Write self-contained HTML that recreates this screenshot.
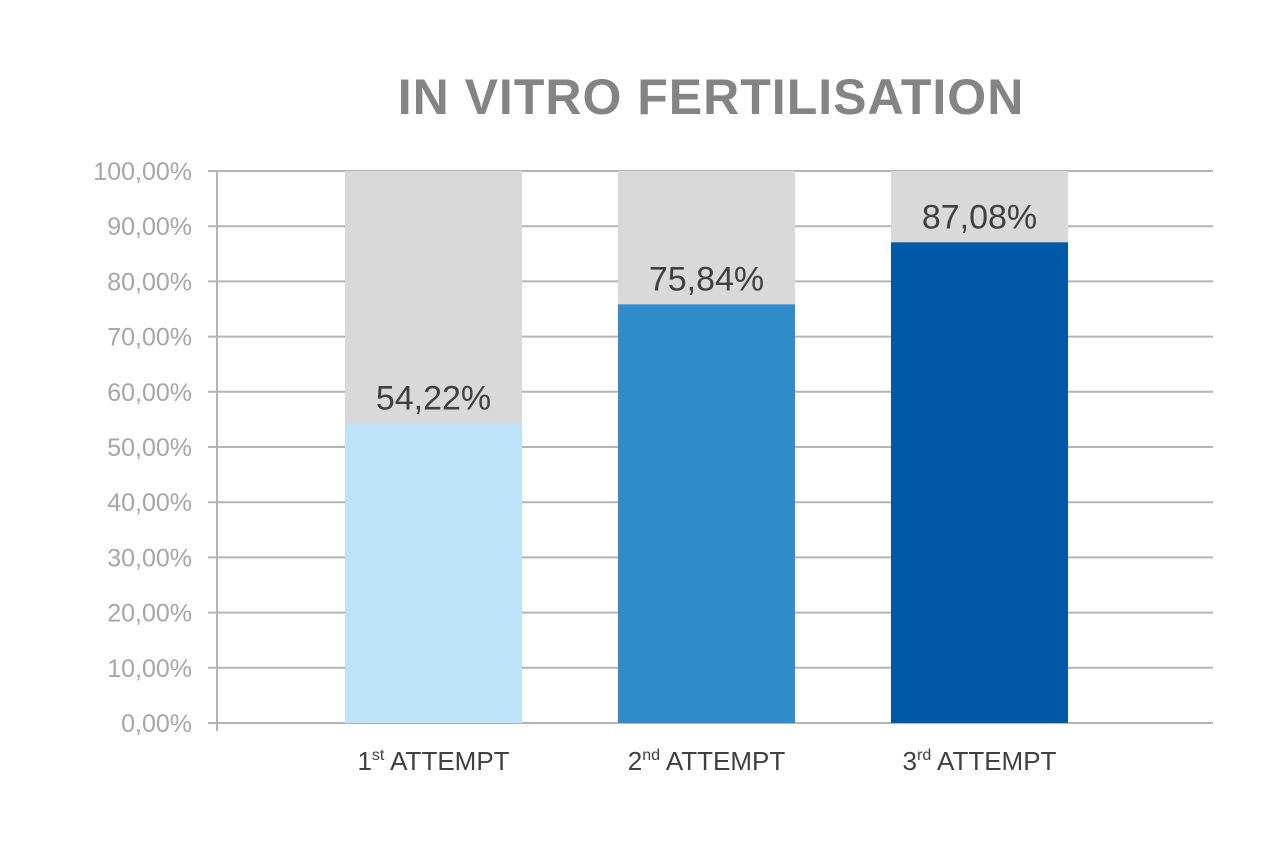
<!DOCTYPE html>
<html><head><meta charset="utf-8"><style>
body{margin:0;background:#fff;width:1280px;height:843px;overflow:hidden}
svg text{font-family:"Liberation Sans",sans-serif}
</style></head><body>
<svg id="chart" width="1280" height="843" xmlns="http://www.w3.org/2000/svg">
<text x="711" y="114" text-anchor="middle" font-size="50" font-weight="bold" fill="#848484" letter-spacing="1">IN VITRO FERTILISATION</text>
<g id="grid"></g><g id="bars"></g><g id="labels"></g>
</svg>
<script>
const categories=["1st","2nd","3rd"];
const suffixes=["st","nd","rd"];
const nums=["1","2","3"];
const values=[54.22,75.84,87.08];
const valueLabels=["54,22%","75,84%","87,08%"];
const ticks=[0,10,20,30,40,50,60,70,80,90,100];
const tickLabels=["0,00%","10,00%","20,00%","30,00%","40,00%","50,00%","60,00%","70,00%","80,00%","90,00%","100,00%"];
const colors=["#bce3f8","#318ccc","#0058a7"];
const NS="http://www.w3.org/2000/svg";
const y0=723,y100=171,xL=208,xR=1213;
const yScale=v=>y0-(v/100)*(y0-y100);
const barX=i=>345+i*273;
const bw=177;
function mk(t,a,p){const e=document.createElementNS(NS,t);for(const k in a)e.setAttribute(k,a[k]);p.appendChild(e);return e;}
const grid=document.getElementById('grid'),bars=document.getElementById('bars'),labels=document.getElementById('labels');
ticks.forEach((t,i)=>{
 const l=mk('line',{x1:xL,x2:xR,y1:yScale(t),y2:yScale(t),stroke:'#b4b4b4','stroke-width':2},grid);
 
 
 const tx=mk('text',{x:192,y:yScale(t)+9,'text-anchor':'end','font-size':25,fill:'#a6a6a6'},grid);
 tx.textContent=tickLabels[i];
 
 
});
const ax=mk('line',{x1:217,x2:217,y1:171,y2:731,stroke:'#b4b4b4','stroke-width':2},grid);


values.forEach((v,i)=>{
 const bg=mk('rect',{x:barX(i),y:yScale(100),width:bw,height:yScale(0)-yScale(100),fill:'#d9d9d9'},bars);
 
 
 const r=mk('rect',{x:barX(i),y:yScale(v),width:bw,height:yScale(0)-yScale(v),fill:colors[i]},bars);
 
 
 const vl=mk('text',{x:barX(i)+bw/2,y:yScale(v)-14,'text-anchor':'middle','font-size':34,fill:'#404040'},labels);
 vl.textContent=valueLabels[i];
 
 
 const cl=mk('text',{x:barX(i)+bw/2,y:770,'text-anchor':'middle','font-size':26,fill:'#404040'},labels);
 
 
 const a=document.createElementNS(NS,'tspan');a.textContent=nums[i];cl.appendChild(a);
 const b=document.createElementNS(NS,'tspan');b.textContent=suffixes[i];b.setAttribute('font-size','16');b.setAttribute('dy','-10');cl.appendChild(b);
 const c=document.createElementNS(NS,'tspan');c.textContent=' ATTEMPT';c.setAttribute('dy','10');cl.appendChild(c);
});
</script>
</body></html>
